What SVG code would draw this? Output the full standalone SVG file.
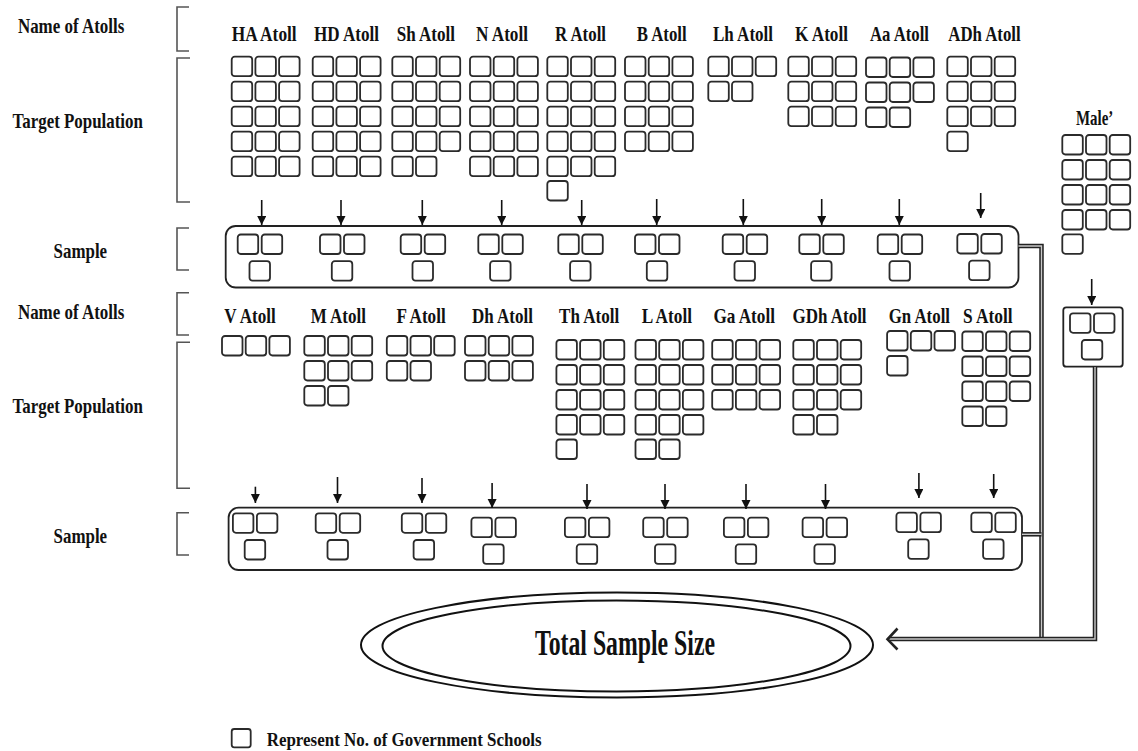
<svg xmlns="http://www.w3.org/2000/svg" xmlns:xlink="http://www.w3.org/1999/xlink" width="1138" height="751" viewBox="0 0 1138 751">
<style>
.t{font-family:"Liberation Serif","Times New Roman",serif;font-weight:bold;font-size:21px;fill:#111}
.bx{fill:none;stroke:#2b2b2b;stroke-width:1.8}
.br{fill:none;stroke:#555;stroke-width:1.6}
.ar{fill:none;stroke:#111;stroke-width:1.6}
.cont{fill:none;stroke:#222;stroke-width:1.8}
.dlo{fill:none;stroke:#222;stroke-width:4.5}
.dli{fill:none;stroke:#c8c8c8;stroke-width:1.4}
.ell{fill:none;stroke:#111;stroke-width:2}
</style>
<defs>
<rect id="b" class="bx" width="20.5" height="19.5" rx="3"/>
<g id="r3"><use href="#b"/><use href="#b" x="23.7"/><use href="#b" x="47.4"/></g>
<g id="r2"><use href="#b"/><use href="#b" x="23.7"/></g>
<g id="s3"><use href="#b"/><use href="#b" x="24"/><use href="#b" x="11.8" y="26.7"/></g>
<marker id="ah" markerUnits="userSpaceOnUse" markerWidth="10" markerHeight="10" refX="9" refY="4.5" orient="auto"><path d="M0,0 L9,4.5 L0,9 z" fill="#111"/></marker>
<path id="dl1" d="M1018.5,246 H1041.5 V639"/>
<path id="dl2" d="M1022,534.3 H1041.5"/>
<path id="dl3" d="M1095,367 V639 H889"/>
</defs>
<rect width="1138" height="751" fill="#fff"/>

<g id="row-labels">
<text class="t" x="17.9" y="33.3" textLength="106.4" lengthAdjust="spacingAndGlyphs">Name of Atolls</text>
<text class="t" x="12.5" y="128.3" textLength="130.4" lengthAdjust="spacingAndGlyphs">Target Population</text>
<text class="t" x="53.6" y="258.3" textLength="53.5" lengthAdjust="spacingAndGlyphs">Sample</text>
<text class="t" x="17.9" y="319.3" textLength="106.4" lengthAdjust="spacingAndGlyphs">Name of Atolls</text>
<text class="t" x="12.5" y="413.3" textLength="130.4" lengthAdjust="spacingAndGlyphs">Target Population</text>
<text class="t" x="53.6" y="543.3" textLength="53.5" lengthAdjust="spacingAndGlyphs">Sample</text>
<path class="br" d="M189,7 H177 V51 H189"/>
<path class="br" d="M190,58 H177 V202 H190"/>
<path class="br" d="M189,228 H177 V270 H189"/>
<path class="br" d="M189,292.7 H177 V335 H189"/>
<path class="br" d="M190,342.3 H177 V488.3 H190"/>
<path class="br" d="M189,512.7 H177 V555 H189"/>
</g>

<g id="atoll-HA"><text class="t" x="231.7" y="40.7" textLength="65" lengthAdjust="spacingAndGlyphs">HA Atoll</text>
<use href="#r3" x="231.7" y="56.7"/><use href="#r3" x="231.7" y="81.7"/><use href="#r3" x="231.7" y="106.7"/><use href="#r3" x="231.7" y="131.7"/><use href="#r3" x="231.7" y="156.7"/></g>
<g id="atoll-HD"><text class="t" x="314" y="40.7" textLength="65" lengthAdjust="spacingAndGlyphs">HD Atoll</text>
<use href="#r3" x="312.7" y="56.7"/><use href="#r3" x="312.7" y="81.7"/><use href="#r3" x="312.7" y="106.7"/><use href="#r3" x="312.7" y="131.7"/><use href="#r3" x="312.7" y="156.7"/></g>
<g id="atoll-Sh"><text class="t" x="396.7" y="40.7" textLength="58.3" lengthAdjust="spacingAndGlyphs">Sh Atoll</text>
<use href="#r3" x="392.3" y="56.7"/><use href="#r3" x="392.3" y="81.7"/><use href="#r3" x="392.3" y="106.7"/><use href="#r3" x="392.3" y="131.7"/><use href="#r2" x="392.3" y="156.7"/></g>
<g id="atoll-N"><text class="t" x="476" y="40.7" textLength="52" lengthAdjust="spacingAndGlyphs">N Atoll</text>
<use href="#r3" x="470" y="56.7"/><use href="#r3" x="470" y="81.7"/><use href="#r3" x="470" y="106.7"/><use href="#r3" x="470" y="131.7"/><use href="#r3" x="470" y="156.7"/></g>
<g id="atoll-R"><text class="t" x="555" y="40.7" textLength="51" lengthAdjust="spacingAndGlyphs">R Atoll</text>
<use href="#r3" x="547.3" y="56.7"/><use href="#r3" x="547.3" y="81.7"/><use href="#r3" x="547.3" y="106.7"/><use href="#r3" x="547.3" y="131.7"/><use href="#r3" x="547.3" y="156.7"/><use href="#b" x="547.3" y="181"/></g>
<g id="atoll-B"><text class="t" x="636.7" y="40.7" textLength="50" lengthAdjust="spacingAndGlyphs">B Atoll</text>
<use href="#r3" x="625" y="56.7"/><use href="#r3" x="625" y="81.7"/><use href="#r3" x="625" y="106.7"/><use href="#r3" x="625" y="131.7"/></g>
<g id="atoll-Lh"><text class="t" x="713" y="40.7" textLength="60" lengthAdjust="spacingAndGlyphs">Lh Atoll</text>
<use href="#r3" x="708.3" y="56.7"/><use href="#r2" x="708.3" y="81.7"/></g>
<g id="atoll-K"><text class="t" x="795" y="40.7" textLength="53" lengthAdjust="spacingAndGlyphs">K Atoll</text>
<use href="#r3" x="788.3" y="56.7"/><use href="#r3" x="788.3" y="81.7"/><use href="#r3" x="788.3" y="106.7"/></g>
<g id="atoll-Aa"><text class="t" x="870" y="40.7" textLength="59" lengthAdjust="spacingAndGlyphs">Aa Atoll</text>
<use href="#r3" x="866" y="57.5"/><use href="#r3" x="866" y="82.5"/><use href="#r2" x="866" y="107.5"/></g>
<g id="atoll-ADh"><text class="t" x="948.3" y="40.7" textLength="72.4" lengthAdjust="spacingAndGlyphs">ADh Atoll</text>
<use href="#r3" x="947.3" y="56.7"/><use href="#r3" x="947.3" y="81.7"/><use href="#r3" x="947.3" y="106.7"/><use href="#b" x="947.3" y="131.7"/></g>
<g id="atoll-Male"><text class="t" x="1076" y="125" textLength="37.3" lengthAdjust="spacingAndGlyphs">Male’</text>
<use href="#r3" x="1062.3" y="135"/><use href="#r3" x="1062.3" y="160"/><use href="#r3" x="1062.3" y="185"/><use href="#r3" x="1062.3" y="210"/><use href="#b" x="1062.3" y="234.3"/></g>

<g id="sample-top">
<rect class="cont" x="225.7" y="226" width="792.8" height="61.5" rx="10"/>
<use href="#s3" x="237.7" y="234.5"/><use href="#s3" x="320" y="234.5"/><use href="#s3" x="400.7" y="234.5"/><use href="#s3" x="478.3" y="234.5"/><use href="#s3" x="558.3" y="234.5"/><use href="#s3" x="635" y="234.5"/><use href="#s3" x="722.7" y="234.5"/><use href="#s3" x="799.3" y="234.5"/><use href="#s3" x="877.7" y="234.5"/><use href="#s3" x="957.3" y="234"/>
</g>

<g id="atoll-V"><text class="t" x="224.3" y="322.7" textLength="51.4" lengthAdjust="spacingAndGlyphs">V Atoll</text>
<use href="#r3" x="222" y="336"/></g>
<g id="atoll-M"><text class="t" x="310.7" y="322.7" textLength="55.3" lengthAdjust="spacingAndGlyphs">M Atoll</text>
<use href="#r3" x="304.3" y="336"/><use href="#r3" x="304.3" y="361"/><use href="#r2" x="304.3" y="386"/></g>
<g id="atoll-F"><text class="t" x="396.4" y="322.7" textLength="49.3" lengthAdjust="spacingAndGlyphs">F Atoll</text>
<use href="#r3" x="386.8" y="336"/><use href="#r2" x="386.8" y="361"/></g>
<g id="atoll-Dh"><text class="t" x="472" y="322.7" textLength="60.9" lengthAdjust="spacingAndGlyphs">Dh Atoll</text>
<use href="#r3" x="465" y="336"/><use href="#r3" x="465" y="361"/></g>
<g id="atoll-Th"><text class="t" x="559" y="322.7" textLength="60.2" lengthAdjust="spacingAndGlyphs">Th Atoll</text>
<use href="#r3" x="556.4" y="340"/><use href="#r3" x="556.4" y="365"/><use href="#r3" x="556.4" y="390"/><use href="#r3" x="556.4" y="415"/><use href="#b" x="556.4" y="439.5"/></g>
<g id="atoll-L"><text class="t" x="641.7" y="322.7" textLength="50.3" lengthAdjust="spacingAndGlyphs">L Atoll</text>
<use href="#r3" x="635.5" y="340"/><use href="#r3" x="635.5" y="365"/><use href="#r3" x="635.5" y="390"/><use href="#r3" x="635.5" y="415"/><use href="#r2" x="635.5" y="439.5"/></g>
<g id="atoll-Ga"><text class="t" x="713.4" y="322.7" textLength="61.6" lengthAdjust="spacingAndGlyphs">Ga Atoll</text>
<use href="#r3" x="712.2" y="340"/><use href="#r3" x="712.2" y="365"/><use href="#r3" x="712.2" y="390"/></g>
<g id="atoll-GDh"><text class="t" x="792.5" y="322.7" textLength="74.1" lengthAdjust="spacingAndGlyphs">GDh Atoll</text>
<use href="#r3" x="793.3" y="340"/><use href="#r3" x="793.3" y="365"/><use href="#r3" x="793.3" y="390"/><use href="#r2" x="793.3" y="415"/></g>
<g id="atoll-Gn"><text class="t" x="888.7" y="322.7" textLength="61.3" lengthAdjust="spacingAndGlyphs">Gn Atoll</text>
<use href="#r3" x="887.1" y="331"/><use href="#b" x="887.1" y="356"/></g>
<g id="atoll-S"><text class="t" x="963" y="322.7" textLength="49.7" lengthAdjust="spacingAndGlyphs">S Atoll</text>
<use href="#r3" x="962.3" y="331.5"/><use href="#r3" x="962.3" y="356.5"/><use href="#r3" x="962.3" y="381.5"/><use href="#r2" x="962.3" y="406.5"/></g>

<g id="sample-bottom">
<rect class="cont" x="228.6" y="507.7" width="793.4" height="62.3" rx="10"/>
<use href="#s3" x="232.9" y="513.3"/><use href="#s3" x="315.7" y="513.3"/><use href="#s3" x="401.8" y="513.3"/><use href="#s3" x="471.4" y="517.7"/><use href="#s3" x="564.9" y="517.7"/><use href="#s3" x="643.2" y="517.7"/><use href="#s3" x="723.9" y="517.7"/><use href="#s3" x="802.6" y="517.7"/><use href="#s3" x="896.4" y="512.7"/><use href="#s3" x="971.3" y="512.7"/>
</g>

<g id="sample-male">
<rect class="cont" x="1063.3" y="307.3" width="59.4" height="59.4" rx="3"/>
<use href="#s3" x="1070" y="313.3"/>
</g>

<g id="total-sample-size">
<ellipse class="ell" cx="617" cy="645" rx="256" ry="52.5"/>
<ellipse class="ell" cx="616.5" cy="646" rx="234" ry="45.5"/>
<text class="t" x="535" y="655" font-size="35" style="font-size:35px" textLength="180" lengthAdjust="spacingAndGlyphs">Total Sample Size</text>
</g>

<g id="connectors">
<line class="ar" marker-end="url(#ah)" x1="261.7" y1="200" x2="261.7" y2="225"/>
<line class="ar" marker-end="url(#ah)" x1="341" y1="200" x2="341" y2="225"/>
<line class="ar" marker-end="url(#ah)" x1="422.3" y1="200" x2="422.3" y2="225"/>
<line class="ar" marker-end="url(#ah)" x1="501.7" y1="200" x2="501.7" y2="225"/>
<line class="ar" marker-end="url(#ah)" x1="581.7" y1="200" x2="581.7" y2="225"/>
<line class="ar" marker-end="url(#ah)" x1="656.7" y1="199" x2="656.7" y2="225"/>
<line class="ar" marker-end="url(#ah)" x1="743.3" y1="199" x2="743.3" y2="225"/>
<line class="ar" marker-end="url(#ah)" x1="821.7" y1="199" x2="821.7" y2="225"/>
<line class="ar" marker-end="url(#ah)" x1="899.3" y1="199" x2="899.3" y2="225"/>
<line class="ar" marker-end="url(#ah)" x1="980.7" y1="193" x2="980.7" y2="218"/>
<line class="ar" marker-end="url(#ah)" x1="1091.7" y1="279" x2="1091.7" y2="305"/>
<line class="ar" marker-end="url(#ah)" x1="255.4" y1="486.7" x2="255.4" y2="503"/>
<line class="ar" marker-end="url(#ah)" x1="337.5" y1="477" x2="337.5" y2="503"/>
<line class="ar" marker-end="url(#ah)" x1="422" y1="478" x2="422" y2="503"/>
<line class="ar" marker-end="url(#ah)" x1="492.1" y1="483" x2="492.1" y2="508"/>
<line class="ar" marker-end="url(#ah)" x1="587" y1="484" x2="587" y2="509"/>
<line class="ar" marker-end="url(#ah)" x1="665" y1="484" x2="665" y2="509"/>
<line class="ar" marker-end="url(#ah)" x1="746" y1="484" x2="746" y2="509"/>
<line class="ar" marker-end="url(#ah)" x1="825.5" y1="484" x2="825.5" y2="509"/>
<line class="ar" marker-end="url(#ah)" x1="918.9" y1="473" x2="918.9" y2="498"/>
<line class="ar" marker-end="url(#ah)" x1="993.7" y1="474" x2="993.7" y2="498"/>
<use href="#dl1" class="dlo"/><use href="#dl1" class="dli"/>
<use href="#dl2" class="dlo"/><use href="#dl2" class="dli"/>
<use href="#dl3" class="dlo"/><use href="#dl3" class="dli"/>
<path d="M897.5,628.5 L887.5,639.3 L897.5,649.5" fill="none" stroke="#222" stroke-width="2.6"/>
</g>

<g id="legend">
<rect class="bx" x="231.7" y="729" width="19" height="18.3" rx="2.5"/>
<text class="t" x="266.7" y="745.7" style="font-size:19.5px" textLength="275" lengthAdjust="spacingAndGlyphs">Represent No. of Government Schools</text>
</g>
</svg>
